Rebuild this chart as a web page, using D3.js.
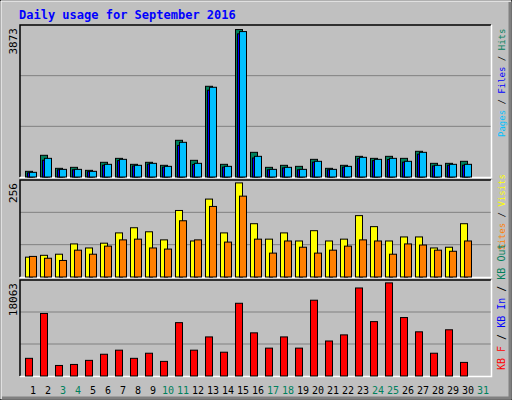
<!DOCTYPE html>
<html><head><meta charset="utf-8">
<script src="https://cdn.jsdelivr.net/npm/d3@7"></script>
<style>body{margin:0;background:#fff}</style>
</head><body>
<svg id="chart" width="512" height="400"></svg>
<script>
const days = d3.range(1, 32);
const weekends = [3, 4, 10, 11, 17, 18, 24, 25, 31];
const hits  = [149,570,228,254,175,386,490,333,386,307,964,438,2383,333,3873,648,254,307,280,464,228,307,543,490,543,490,675,359,359,412,0];
const files = [110,440,190,190,140,310,430,290,340,260,830,330,2280,260,3760,500,190,240,190,390,190,260,480,430,460,390,600,290,310,310,0];
const pages = [123,490,201,201,149,333,464,307,359,280,911,359,2357,280,3820,543,201,254,201,412,201,280,517,464,490,412,648,307,333,333,0];
const visits = [54,59,62,90,79,92,120,134,123,101,181,98,212,120,256,145,103,120,98,126,98,103,167,137,98,109,109,79,81,145,0];
const sites  = [56,51,45,73,62,84,101,103,79,76,153,101,192,95,220,103,65,98,81,65,73,84,101,98,62,90,87,73,70,98,0];
const kbytes = [3428,12130,2044,2241,3033,4219,5010,3428,4417,2835,10350,5010,7581,4615,14107,8372,5406,7581,5406,14701,6790,7977,17074,10548,18063,11339,8570,4417,8965,2637,0];
const maxLabels = ["3873", "256", "18063"];

const svg = d3.select("#chart");
const W = 512, H = 400;
svg.append("rect").attr("width", W).attr("height", H).attr("fill", "#C0C0C0").attr("stroke", "#000");
svg.append("path").attr("d", `M1,${H-1}V1H${W-1}`).attr("stroke", "#fff").attr("fill", "none");
svg.append("path").attr("d", `M2,${H-2}H${W-2}V2`).attr("stroke", "#808080").attr("stroke-width", 3).attr("fill", "none");

svg.append("text").attr("x", 19).attr("y", 19).text("Daily usage for September 2016")
  .attr("font-family", "DejaVu Sans Mono").attr("font-weight", "bold").attr("font-size", 12).attr("fill", "#0000FF");

const x = d3.scaleBand().domain(days).range([25, 490]);

const panels = [
  {top: 25, bottom: 177, max: 3873 / 0.97},
  {top: 180, bottom: 277, max: 256 / 0.97},
  {top: 280, bottom: 376, max: 18063 / 0.97}
];

panels.forEach((p, i) => {
  p.y = d3.scaleLinear().domain([0, p.max]).range([p.bottom, p.top]);
  const g = svg.append("g");
  g.append("rect").attr("x", 20).attr("y", p.top).attr("width", 471).attr("height", p.bottom - p.top).attr("fill", "#C0C0C0");
  [1/3, 2/3].forEach(f => {
    const yy = p.bottom - (p.bottom - p.top) * f;
    g.append("line").attr("x1", 20).attr("x2", 491).attr("y1", yy).attr("y2", yy).attr("stroke", "#808080").attr("stroke-width", 1);
  });
  g.append("path").attr("d", `M20,${p.bottom}V${p.top}H491`).attr("stroke", "#000").attr("stroke-width", 1.5).attr("fill", "none");
  g.append("path").attr("d", `M20,${p.bottom+0.5}H491.5V${p.top}`).attr("stroke", "#fff").attr("stroke-width", 1.5).attr("fill", "none");
  g.append("text").attr("transform", `translate(17,${p.top + 3}) rotate(-90)`)
    .attr("text-anchor", "end").attr("font-family", "DejaVu Sans Mono").attr("font-size", 11).text(maxLabels[i]);
});

function bars(p, data, dx, w, color) {
  svg.append("g").selectAll("rect").data(data.map((v, i) => ({day: days[i], v}))).enter()
    .filter(d => d.v > 0)
    .append("rect")
    .attr("x", d => x(d.day) + dx).attr("y", d => p.y(d.v))
    .attr("width", w).attr("height", d => p.bottom - p.y(d.v))
    .attr("fill", color).attr("stroke", "#000").attr("stroke-width", 1);
}
bars(panels[0], hits, 0.5, 7, "#00805C");
bars(panels[0], files, 2.5, 7, "#0000FF");
bars(panels[0], pages, 4.5, 7, "#00C0FF");
bars(panels[1], visits, 0.5, 7, "#FFFF00");
bars(panels[1], sites, 4.5, 7, "#FF8000");
bars(panels[2], kbytes, 0.5, 7, "#FF0000");

svg.append("g").selectAll("text").data(days).enter().append("text")
  .attr("x", d => x(d) + 8).attr("y", 394).attr("text-anchor", "middle")
  .attr("font-family", "DejaVu Sans Mono").attr("font-size", 10)
  .attr("fill", d => weekends.includes(d) ? "#00805C" : "#000").text(d => d);

function sideLabel(yBottom, size, parts) {
  const t = svg.append("text").attr("transform", `translate(505,${yBottom}) rotate(-90)`)
    .attr("font-family", "DejaVu Sans Mono").attr("font-size", size);
  parts.forEach(([s, c]) => t.append("tspan").attr("fill", c).text(s));
}
sideLabel(137, 9, [["Pages", "#00C0FF"], ["/", "#000"], ["Files", "#0000FF"], ["/", "#000"], ["Hits", "#00805C"]].map(([s, c]) => [s === "/" ? " / " : s, c]));
sideLabel(250, 9, [["Sites", "#FF8000"], [" / ", "#000"], ["Visits", "#FFFF00"]]);
sideLabel(370, 10, [["KB F", "#FF0000"], [" / ", "#000"], ["KB In", "#0000FF"], [" / ", "#000"], ["KB Out", "#00805C"]]);
</script>
</body></html>
